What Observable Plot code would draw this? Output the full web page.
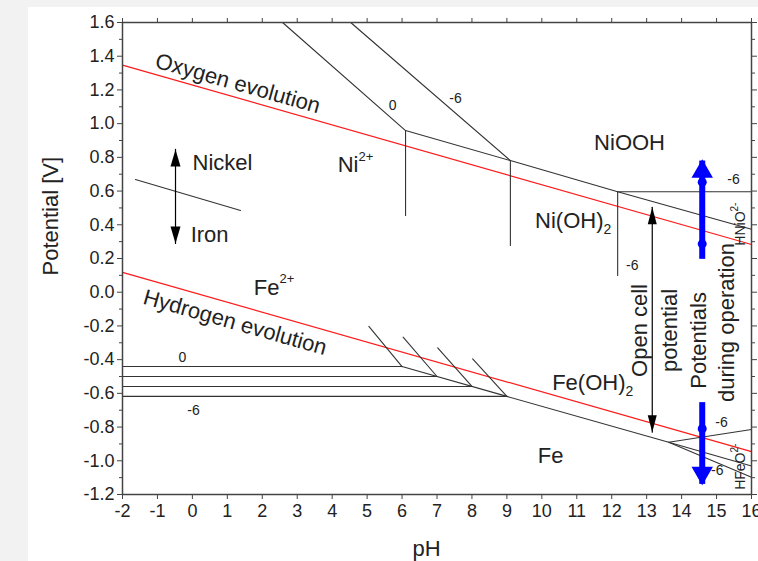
<!DOCTYPE html>
<html>
<head>
<meta charset="utf-8">
<script src="https://cdn.jsdelivr.net/npm/d3@7"></script>
<script src="https://cdn.jsdelivr.net/npm/@observablehq/plot@0.6"></script>
<style>
  html, body { margin: 0; padding: 0; background: #f2f2f2; width: 758px; height: 561px; overflow: hidden; }
  #chart { position: absolute; left: 28px; top: 7px; }
</style>
</head>
<body>
<div id="chart"></div>
<script>
// ---- data (pH, potential in V) ----
const xTicks = [-2,-1,0,1,2,3,4,5,6,7,8,9,10,11,12,13,14,15,16];
const yTicks = [-1.2,-1.0,-0.8,-0.6,-0.4,-0.2,0.0,0.2,0.4,0.6,0.8,1.0,1.2,1.4,1.6];
const yMinor = [-1.1,-0.9,-0.7,-0.5,-0.3,-0.1,0.1,0.3,0.5,0.7,0.9,1.1,1.3,1.5];

const oxygenLine = [[-2, 1.347], [16, 0.283]];
const hydrogenLine = [[-2, 0.118], [16, -0.946]];

const nickelLines = [
  [[2.58, 1.6], [6.1, 0.959]],
  [[4.53, 1.6], [9.1, 0.781]],
  [[6.1, 0.959], [9.1, 0.781], [12.17, 0.596], [16, 0.373]],
  [[6.1, 0.959], [6.1, 0.455]],
  [[9.1, 0.781], [9.1, 0.277]],
  [[12.17, 0.596], [16, 0.596]],
  [[12.17, 0.596], [12.17, 0.099]]
];
const separatorLine = [[-1.63, 0.669], [1.38, 0.485]];

const ironLines = [
  [[-2, -0.441], [6.0, -0.441]],
  [[-2, -0.500], [7.0, -0.500]],
  [[-2, -0.559], [8.0, -0.559]],
  [[-2, -0.618], [9.0, -0.618]],
  [[5.05, -0.203], [6.0, -0.441]],
  [[6.03, -0.267], [7.0, -0.500]],
  [[7.02, -0.330], [8.0, -0.559]],
  [[8.02, -0.395], [9.0, -0.618]],
  [[6.0, -0.441], [9.0, -0.618], [13.63, -0.890], [16, -1.031]],
  [[13.63, -0.890], [16, -1.097]],
  [[13.63, -0.890], [16, -0.814]]
];

// arrows: [pH, tail E, tip E]
const nickelIronArrow = [-0.483, 0.289, 0.847];
const openCellArrow = [13.16, -0.830, 0.504];
const blueUp = [14.59, 0.198, 0.781];
const blueDown = [14.59, -0.652, -1.137];
const blueDots = [[14.59, 0.653], [14.59, 0.287], [14.59, -0.810]];

const bigStartLabels = [
  {text: "Nickel", pH: 0.003, E: 0.764},
  {text: "Iron", pH: -0.05, E: 0.342}
];
const bigMiddleLabels = [
  {text: "NiOOH", pH: 12.51, E: 0.888},
  {text: "Fe", pH: 10.25, E: -0.969}
];
const supLabels = [
  {text: "Ni", sup: "2+", pH: 4.754, E: 0.752},
  {text: "Fe", sup: "2+", pH: 2.493, E: 0.028}
];
const subLabels = [
  {text: "Ni(OH)", sub: "2", pH: 11.765, E: 0.425},
  {text: "Fe(OH)", sub: "2", pH: 12.394, E: -0.536}
];
const concLabels = [
  {text: "0", pH: 5.727, E: 1.108},
  {text: "-6", pH: 7.53, E: 1.149},
  {text: "-6", pH: 15.485, E: 0.669},
  {text: "-6", pH: 12.59, E: 0.158},
  {text: "0", pH: -0.283, E: -0.387},
  {text: "-6", pH: 0.032, E: -0.702},
  {text: "-6", pH: 15.14, E: -0.771},
  {text: "-6", pH: 15.02, E: -1.058}
];
const verticalLabels = [
  {text: "Open cell", pH: 12.795, E: -0.227},
  {text: "potential", pH: 13.654, E: -0.227},
  {text: "Potentials", pH: 14.484, E: -0.286},
  {text: "during operation", pH: 15.286, E: -0.18}
];
const evolutionLabels = [
  {text: "Oxygen evolution", pH: 1.30, E: 1.238},
  {text: "Hydrogen evolution", pH: 1.22, E: -0.180}
];
const ionLabels = [
  {text: "HNiO", sup: "2-", pH: 15.687, E: 0.479},
  {text: "HFeO", sup: "2-", pH: 15.687, E: -0.951}
];

// ---- helpers ----
const toRows = (segs) => segs.flatMap((s, i) => s.map(([x, y]) => ({x, y, z: i})));
// arrowhead symbol with its tip at the anchor point; dir = 1 points up, -1 points down
const head = (w, l, dir) => ({draw(c) { c.moveTo(0, 0); c.lineTo(w / 2, dir * l); c.lineTo(-w / 2, dir * l); c.closePath(); }});
const shaft = (a) => [{x: a[0], y: a[1]}, {x: a[0], y: a[2]}];
const tipOf = (a) => [{x: a[0], y: a[2]}];
const tailOf = (a) => [{x: a[0], y: a[1]}];

const ink = "#222";
const lineInk = "#333";
const blue = "#0000ff";
const font = "'Liberation Sans', Arial, Helvetica, sans-serif";

const chart = Plot.plot({
  width: 730,
  height: 554,
  marginLeft: 94,
  marginRight: 7,
  marginTop: 15,
  marginBottom: 67,
  style: {background: "white", fontFamily: font, fontSize: "18px", color: ink, overflow: "visible"},
  x: {domain: [-2, 16]},
  y: {domain: [-1.2, 1.6]},
  marks: [
    // red reference lines
    Plot.line(toRows([oxygenLine, hydrogenLine]), {x: "x", y: "y", z: "z", stroke: "#ff1a1a", strokeWidth: 1.2}),
    // boundaries
    Plot.line(toRows(nickelLines), {x: "x", y: "y", z: "z", stroke: lineInk, strokeWidth: 1.1}),
    Plot.line(toRows([separatorLine]), {x: "x", y: "y", z: "z", stroke: lineInk, strokeWidth: 1.1}),
    Plot.line(toRows(ironLines), {x: "x", y: "y", z: "z", stroke: lineInk, strokeWidth: 1.1}),

    // black double arrows
    Plot.line(shaft(nickelIronArrow), {x: "x", y: "y", stroke: "#000", strokeWidth: 1.2}),
    Plot.dot(tipOf(nickelIronArrow), {x: "x", y: "y", symbol: head(10, 17, 1), fill: "#000", stroke: null}),
    Plot.dot(tailOf(nickelIronArrow), {x: "x", y: "y", symbol: head(10, 17, -1), fill: "#000", stroke: null}),
    Plot.line(shaft(openCellArrow), {x: "x", y: "y", stroke: "#000", strokeWidth: 1.2}),
    Plot.dot(tipOf(openCellArrow), {x: "x", y: "y", symbol: head(9, 17, 1), fill: "#000", stroke: null}),
    Plot.dot(tailOf(openCellArrow), {x: "x", y: "y", symbol: head(9, 17, -1), fill: "#000", stroke: null}),

    // blue arrows
    Plot.line(shaft(blueUp), {x: "x", y: "y", stroke: blue, strokeWidth: 6, strokeLinecap: "butt"}),
    Plot.line(shaft(blueDown), {x: "x", y: "y", stroke: blue, strokeWidth: 6, strokeLinecap: "butt"}),
    Plot.dot(tipOf(blueUp), {x: "x", y: "y", symbol: "triangle", r: 7, dy: 11, fill: blue, stroke: blue, strokeWidth: 1.5}),
    Plot.dot(tipOf(blueDown), {x: "x", y: "y", symbol: "triangle", r: 7, rotate: 180, dy: -11, fill: blue, stroke: blue, strokeWidth: 1.5}),
    Plot.dot(blueDots, {x: d => d[0], y: d => d[1], r: 4.5, fill: blue, stroke: null}),

    // labels
    Plot.text(bigStartLabels, {x: "pH", y: "E", text: "text", textAnchor: "start", fontSize: 22, fill: ink}),
    Plot.text(bigMiddleLabels, {x: "pH", y: "E", text: "text", fontSize: 22, fill: ink}),
    Plot.text(supLabels, {x: "pH", y: "E", text: "text", textAnchor: "end", fontSize: 22, fill: ink}),
    Plot.text(supLabels, {x: "pH", y: "E", text: "sup", textAnchor: "start", fontSize: 13, dy: -9, fill: ink}),
    Plot.text(subLabels, {x: "pH", y: "E", text: "text", textAnchor: "end", fontSize: 22, fill: ink}),
    Plot.text(subLabels, {x: "pH", y: "E", text: "sub", textAnchor: "start", fontSize: 14, dy: 9, fill: ink}),
    Plot.text(concLabels, {x: "pH", y: "E", text: "text", fontSize: 14, fill: ink}),
    Plot.text(verticalLabels, {x: "pH", y: "E", text: "text", rotate: -90, fontSize: 22, fill: ink}),
    Plot.text(evolutionLabels, {x: "pH", y: "E", text: "text", rotate: 15.8, fontSize: 22, fill: ink}),
    Plot.text(ionLabels, {x: "pH", y: "E", text: "text", rotate: -90, textAnchor: "end", fontSize: 14, fill: ink}),
    Plot.text(ionLabels, {x: "pH", y: "E", text: "sup", rotate: -90, textAnchor: "start", fontSize: 10, dx: -6, fill: ink}),

    // frame and axes
    Plot.frame({stroke: "#444", strokeWidth: 1.5}),
    Plot.axisX({anchor: "bottom", ticks: xTicks, tickSize: 5, tickPadding: 5, tickFormat: d => String(d), label: null, stroke: "#444", fill: ink, fontSize: 18}),
    Plot.axisX({anchor: "top", ticks: xTicks, tickSize: 5, text: null, label: null, stroke: "#444"}),
    Plot.axisY({anchor: "left", ticks: yTicks, tickSize: 5, tickPadding: 3, tickFormat: d => d.toFixed(1), label: null, stroke: "#444", fill: ink, fontSize: 18}),
    Plot.axisY({anchor: "left", ticks: yMinor, tickSize: 3, text: null, label: null, stroke: "#444"}),
    Plot.axisY({anchor: "right", ticks: yTicks, tickSize: 5, text: null, label: null, stroke: "#444"}),
    Plot.axisY({anchor: "right", ticks: yMinor, tickSize: 3, text: null, label: null, stroke: "#444"}),

    // axis titles
    Plot.text(["pH"], {x: 6.7, frameAnchor: "bottom", lineAnchor: "middle", dy: 54, fontSize: 22, fill: ink}),
    Plot.text(["Potential [V]"], {y: 0.099, frameAnchor: "left", lineAnchor: "middle", dx: -72, rotate: -90, fontSize: 22, fill: ink})
  ]
});
document.getElementById("chart").appendChild(chart);
</script>
</body>
</html>
